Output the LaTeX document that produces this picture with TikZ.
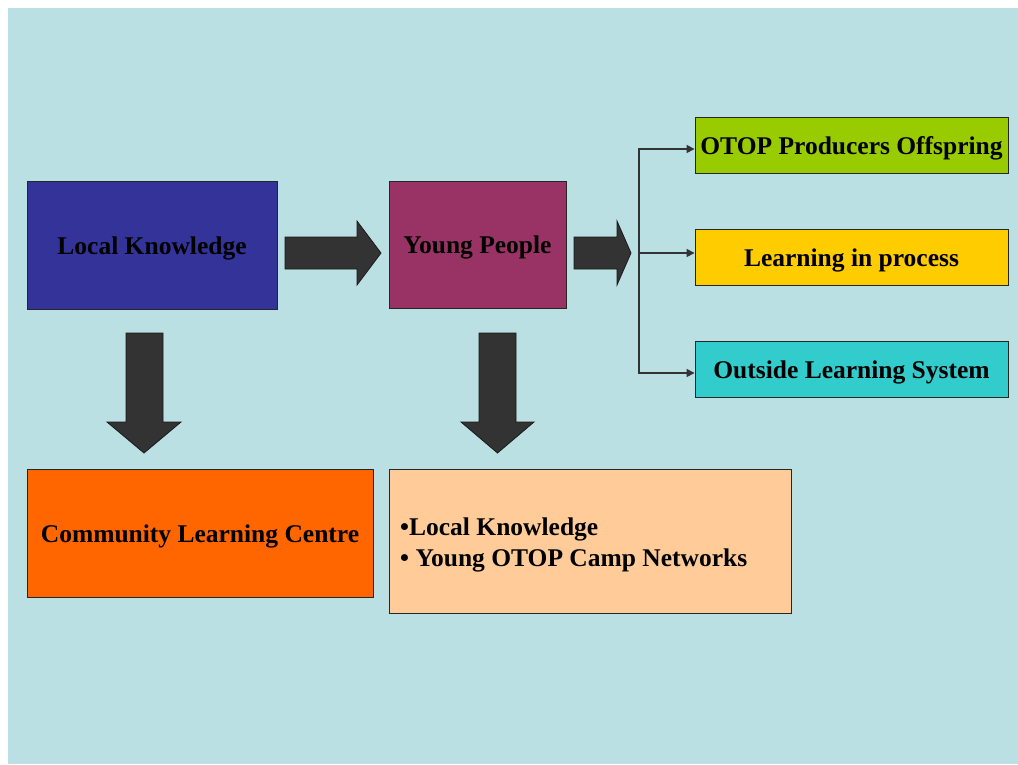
\documentclass[tikz,border=0pt]{standalone}
\usepackage{fontspec}
\setmainfont{Liberation Serif}
\usetikzlibrary{arrows.meta}
\definecolor{bgc}{RGB}{186,224,227}
\definecolor{lkc}{RGB}{51,51,153}
\definecolor{ypc}{RGB}{153,51,102}
\definecolor{otc}{RGB}{153,204,0}
\definecolor{lpc}{RGB}{255,204,0}
\definecolor{olc}{RGB}{51,204,204}
\definecolor{clc}{RGB}{255,102,0}
\definecolor{blc}{RGB}{255,204,153}
\definecolor{arc}{RGB}{51,51,51}
\tikzset{
  box/.style={draw=black!85, line width=0.9pt, inner sep=0pt, align=center,
    text height=18pt, text depth=0pt,
    font=\fontsize{25.5}{31}\selectfont\bfseries},
  blockarrow/.style={fill=arc, draw=black!90, line width=0.8pt},
  conn/.style={draw=arc, line width=1.4pt, -{Triangle[length=8pt,width=8pt]}},
}
\begin{document}
\begin{tikzpicture}[x=1pt,y=-1pt]
\useasboundingbox (0,0) rectangle (1018,764);
\fill[bgc] (8,8) rectangle (1018,764);

\node[box, fill=lkc, minimum width=250pt, minimum height=128pt] (lk) at (152,245) {Local Knowledge};
\node[box, fill=ypc, minimum width=177pt, minimum height=127pt] (yp) at (477.5,244.5) {Young People};
\node[box, fill=otc, minimum width=313pt, minimum height=56pt] (ot) at (851.5,145) {OTOP Producers Offspring};
\node[box, fill=lpc, minimum width=313pt, minimum height=56pt] (lp) at (851.5,257) {Learning in process};
\node[box, fill=olc, minimum width=313pt, minimum height=56pt] (ol) at (851.5,369) {Outside Learning System};
\node[box, fill=clc, minimum width=346pt, minimum height=128pt] (cl) at (200,533) {Community Learning Centre};
\node[box, fill=blc, minimum width=402pt, minimum height=144pt] (bl) at (590,541) {};
\node[anchor=base west, inner sep=0pt, font=\fontsize{25.5}{31}\selectfont\bfseries] (b1) at (400,535) {\textbullet Local Knowledge};
\node[anchor=base west, inner sep=0pt, font=\fontsize{25.5}{31}\selectfont\bfseries] (b2) at (400,566) {\textbullet{} Young OTOP Camp Networks};

% block arrows
\path[blockarrow] (285,237) -- (357,237) -- (357,221) -- (381,253) -- (357,285) -- (357,269) -- (285,269) -- cycle;
\path[blockarrow] (574,237) -- (617,237) -- (617,221) -- (631,253) -- (617,285) -- (617,269) -- (574,269) -- cycle;
\path[blockarrow] (126,333) -- (163,333) -- (163,422) -- (181,422) -- (144,453) -- (107,422) -- (126,422) -- cycle;
\path[blockarrow] (479,333) -- (516,333) -- (516,422) -- (534,422) -- (497.5,453) -- (461,422) -- (479,422) -- cycle;

% connectors
\coordinate (j) at (639,253);
\draw[conn] (j) |- ([yshift=-4pt]ot.west);
\draw[conn] (j) -- ([yshift=4pt]lp.west);
\draw[conn] (j) |- ([yshift=-4pt]ol.west);
\end{tikzpicture}
\end{document}
